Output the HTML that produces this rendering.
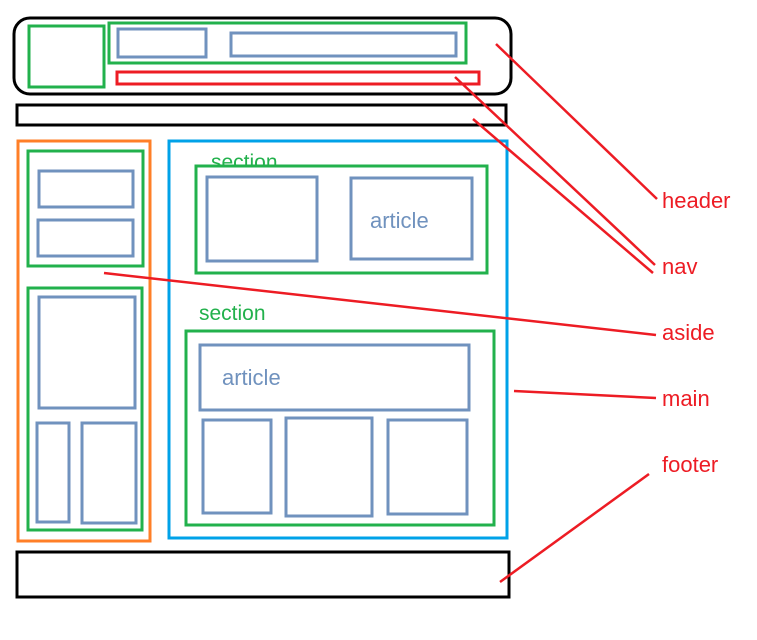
<!DOCTYPE html>
<html><head><meta charset="utf-8"><style>
html,body{margin:0;padding:0;background:#fff;}
svg{display:block;}
text{font-family:"Liberation Sans","DejaVu Sans",sans-serif;}
</style></head><body>
<svg width="757" height="640" viewBox="0 0 757 640" xmlns="http://www.w3.org/2000/svg">
<defs><clipPath id="c1"><rect x="190" y="140" width="150" height="25"/></clipPath></defs>
<text x="211" y="169" font-size="21" fill="#22b14c" clip-path="url(#c1)">section</text>
<g fill="none" stroke-width="3">
<!-- header -->
<rect x="14" y="18" width="497" height="76" rx="16" stroke="#000"/>
<rect x="29" y="26" width="75" height="61" stroke="#22b14c"/>
<rect x="109" y="23" width="357" height="40" stroke="#22b14c"/>
<rect x="118" y="29" width="88" height="28" stroke="#7092be"/>
<rect x="231" y="33" width="225" height="23" stroke="#7092be"/>
<rect x="117" y="72" width="362" height="12" stroke="#ed1c24"/>
<rect x="17" y="105" width="489" height="20" stroke="#000"/>
<!-- aside -->
<rect x="18" y="141" width="132" height="400" stroke="#ff7f27"/>
<rect x="28" y="151" width="115" height="115" stroke="#22b14c"/>
<rect x="39" y="171" width="94" height="36" stroke="#7092be"/>
<rect x="38" y="220" width="95" height="36" stroke="#7092be"/>
<rect x="28" y="288" width="114" height="242" stroke="#22b14c"/>
<rect x="39" y="297" width="96" height="111" stroke="#7092be"/>
<rect x="37" y="423" width="32" height="99" stroke="#7092be"/>
<rect x="82" y="423" width="54" height="100" stroke="#7092be"/>
<!-- main -->
<rect x="169" y="141" width="338" height="397" stroke="#00a2e8"/>
<rect x="196" y="166" width="291" height="107" stroke="#22b14c"/>
<rect x="207" y="177" width="110" height="84" stroke="#7092be"/>
<rect x="351" y="178" width="121" height="81" stroke="#7092be"/>
<rect x="186" y="331" width="308" height="194" stroke="#22b14c"/>
<rect x="200" y="345" width="269" height="65" stroke="#7092be"/>
<rect x="203" y="420" width="68" height="93" stroke="#7092be"/>
<rect x="286" y="418" width="86" height="98" stroke="#7092be"/>
<rect x="388" y="420" width="79" height="94" stroke="#7092be"/>
<!-- footer -->
<rect x="17" y="552" width="492" height="45" stroke="#000"/>
<!-- connectors -->
<g stroke="#ed1c24" stroke-width="2.5">
<line x1="496" y1="44" x2="657" y2="199"/>
<line x1="455" y1="77" x2="655" y2="265"/>
<line x1="473" y1="119" x2="653" y2="273"/>
<line x1="104" y1="273" x2="656" y2="335"/>
<line x1="514" y1="391" x2="656" y2="398"/>
<line x1="500" y1="582" x2="649" y2="474"/>
</g>
</g>
<text x="199" y="320" font-size="21" fill="#22b14c">section</text>
<text x="370" y="228" font-size="22" fill="#7092be">article</text>
<text x="222" y="385" font-size="22" fill="#7092be">article</text>
<g font-size="22" fill="#ed1c24">
<text x="662" y="208">header</text>
<text x="662" y="274">nav</text>
<text x="662" y="340">aside</text>
<text x="662" y="406">main</text>
<text x="662" y="472">footer</text>
</g>
</svg>
</body></html>
